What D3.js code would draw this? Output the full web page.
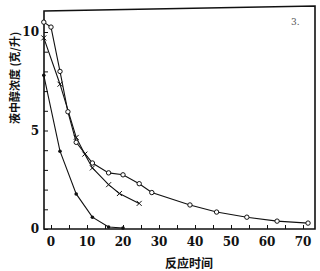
<!DOCTYPE html>
<html><head><meta charset="utf-8">
<script src="https://cdn.jsdelivr.net/npm/d3@7"></script>
<style>body{margin:0;background:#fff}svg{display:block}</style>
</head><body><svg id="c" width="320" height="271"></svg>
<script>
const xTicks=[0,10,20,30,40,50,60,70];
const yTicks=[0,5,10];
const seriesOpenX=[-2,0,2.5,4.7,7,11.5,16,20,24.5,28,38.6,46,54.4,62.8,71.4];
const seriesOpenY=[10.5,10.25,8.0,5.95,4.4,3.35,2.85,2.75,2.3,1.85,1.22,0.86,0.6,0.4,0.3];
const seriesCrossX=[-2,2.5,7,9.4,11.5,16,19,24.5];
const seriesCrossY=[9.7,7.35,4.65,3.8,3.1,2.25,1.8,1.3];
const seriesDotX=[-2,2.5,7,11.5,16,20];
const seriesDotY=[7.8,3.95,1.78,0.6,0.1,0.05];
const xLabel="反应时间";
const yLabel="液中醇浓度 (克/升)";

const svg=d3.select("#c");
const x=d3.scaleLinear().domain([0,70]).range([51,303]);
const y=d3.scaleLinear().domain([0,10]).range([229,32]);
const L=44,R=315,T=9,B=229;
const ink="#111";
const g=svg.append("g");
g.append("path").attr("d",`M${L},${B}V${T+2}L${R},${T-3}V${B}Z`).attr("fill","none").attr("stroke",ink).attr("stroke-width",1.6);
const yAx=d3.axisRight(y).tickValues(d3.range(0,11,1)).tickSize(4).tickFormat("");
g.append("g").attr("transform",`translate(${L},0)`).call(yAx).call(s=>{s.select(".domain").remove();s.selectAll("line").attr("stroke",ink);});
const xAx=d3.axisTop(x).tickValues(d3.range(0,75,5)).tickSize(4).tickFormat("");
g.append("g").attr("transform",`translate(0,${B})`).call(xAx).call(s=>{s.select(".domain").remove();s.selectAll("line").attr("stroke",ink);});
g.selectAll("text.xl").data(xTicks).join("text").attr("x",d=>x(d)).attr("y",246)
 .attr("text-anchor","middle").attr("font-family","DejaVu Serif, serif").attr("font-weight","bold").attr("font-size",12).attr("fill",ink).text(d=>d);
g.selectAll("text.yl").data(yTicks).join("text").attr("x",39).attr("y",d=>y(d)+4)
 .attr("text-anchor","end").attr("font-family","DejaVu Serif, serif").attr("font-weight","bold").attr("font-size",12).attr("fill",ink).text(d=>d);
g.append("text").attr("x",189).attr("y",268).attr("text-anchor","middle").attr("font-family","Noto Sans CJK SC").attr("font-weight","bold").attr("font-size",12).attr("fill",ink).text(xLabel);
g.append("text").attr("transform","translate(19,78) rotate(-90)").attr("text-anchor","middle").attr("font-family","Noto Sans CJK SC").attr("font-weight","bold").attr("font-size",11).attr("fill",ink).text(yLabel);
g.append("text").attr("x",291).attr("y",25).attr("font-family","DejaVu Serif, serif").attr("font-size",9).attr("fill","#555").text("3.");

const line=d3.line().x(d=>x(d[0])).y(d=>y(d[1]));
function zip(a,b){return a.map((v,i)=>[v,b[i]]);}
const open=zip(seriesOpenX,seriesOpenY), cross=zip(seriesCrossX,seriesCrossY), dot=zip(seriesDotX,seriesDotY);
[dot,cross,open].forEach(s=>g.append("path").attr("d",line(s)).attr("fill","none").attr("stroke",ink).attr("stroke-width",1.1));
g.selectAll("circle.o").data(open).join("circle").attr("cx",d=>x(d[0])).attr("cy",d=>y(d[1])).attr("r",2.2).attr("fill","#fff").attr("stroke",ink).attr("stroke-width",1);
g.selectAll("circle.d").data(dot).join("circle").attr("cx",d=>x(d[0])).attr("cy",d=>y(d[1])).attr("r",1.8).attr("fill",ink);
g.selectAll("path.x").data(cross).join("path").attr("d",d=>{const cx=x(d[0]),cy=y(d[1]);return `M${cx-2.5},${cy-2.5}L${cx+2.5},${cy+2.5}M${cx-2.5},${cy+2.5}L${cx+2.5},${cy-2.5}`;}).attr("stroke",ink).attr("stroke-width",1);
</script></body></html>
